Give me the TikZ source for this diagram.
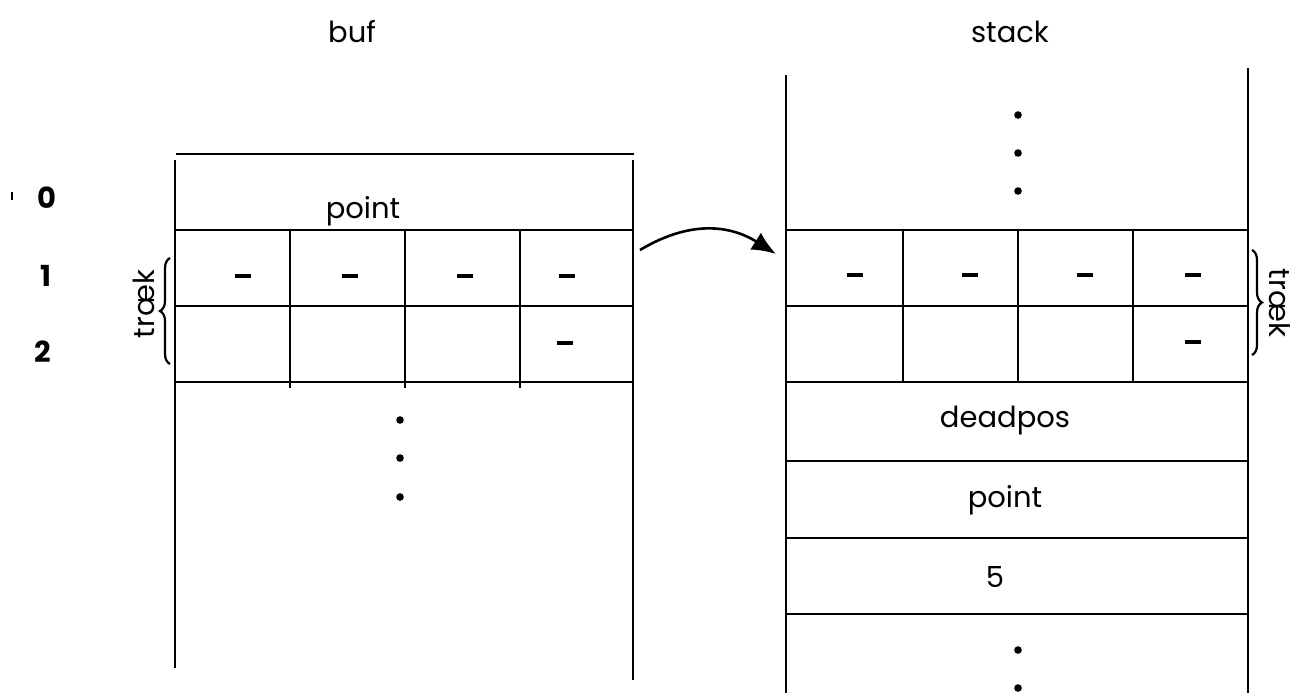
\documentclass[tikz,border=0pt]{standalone}
\usepackage{fontspec}
\setmainfont{Poppins}
\usetikzlibrary{arrows.meta,decorations.pathreplacing}
\begin{document}
\begin{tikzpicture}[x=0.5pt,y=-0.5pt,
  ln/.style={line width=1.4pt},
  lbl/.style={font=\fontsize{14.5}{16}\selectfont, inner sep=0pt},
  num/.style={font=\fontsize{14.5}{16}\selectfont\bfseries, inner sep=0pt},
  dsh/.style={line width=2pt},
  dotm/.style={circle, fill=black, inner sep=0pt, minimum size=3.8pt},
  brc/.style={decorate, decoration={brace, amplitude=5pt}, line width=1.1pt}]
\useasboundingbox (0,0) rectangle (1290,693);
% titles
\node[lbl] (buf) at (352,32) {buf};
\node[lbl] (stack) at (1010,32) {stack};
% row numbers
\node[num] (r0) at (47,198) {0};
\node[num] (r1) at (46,276) {1};
\node[num] (r2) at (43,352) {2};
\draw[line width=0.8pt] (12,192) -- (12,200);
% left box
\draw[ln] (176,154) -- (634,154);
\draw[ln] (175,160) -- (175,668);
\draw[ln] (633,160) -- (633,680);
\foreach \y in {230,306,382} \draw[ln] (175,\y) -- (633,\y);
\foreach \x in {290,405,520} \draw[ln] (\x,230) -- (\x,388);
\node[lbl] (lpoint) at (363,211) {point};
\foreach \x in {243,350,465,567} \draw[dsh] (\x-8,276) -- (\x+8,276);
\draw[dsh] (557,343) -- (573,343);
\foreach \y/\n in {420/a,458/b,497/c} \node[dotm] (ld\n) at (400,\y) {};
% left brace
\draw[brc] (170,364) -- (170,258);
\node[lbl, rotate=90] (ltraek) at (144,304) {træk};
% right box
\draw[ln] (786,75) -- (786,693);
\draw[ln] (1248,68) -- (1248,693);
\foreach \y in {230,306,382,461,538,614} \draw[ln] (786,\y) -- (1248,\y);
\foreach \x in {903,1018,1133} \draw[ln] (\x,230) -- (\x,382);
\foreach \y/\n in {115/a,153/b,191/c} \node[dotm] (rt\n) at (1018,\y) {};
\foreach \x in {855,970,1085,1193} \draw[dsh] (\x-8,275) -- (\x+8,275);
\draw[dsh] (1185,342) -- (1201,342);
\node[lbl] (deadpos) at (1005,421) {deadpos};
\node[lbl] (rpoint) at (1005,500) {point};
\node[lbl] (five) at (995,577) {5};
\foreach \y/\n in {650/a,688/b} \node[dotm] (rb\n) at (1018,\y) {};
% right brace
\draw[brc] (1252,250) -- (1252,355);
\node[lbl, rotate=-90] (rtraek) at (1280,303) {træk};
% arrow
\coordinate (as) at (640,250);
\coordinate (ae) at (776,254);
\draw[line width=1.3pt, -{Latex[length=12pt,width=10pt]}] (as) .. controls (690,220) and (730,225) .. (ae);
\end{tikzpicture}
\end{document}
